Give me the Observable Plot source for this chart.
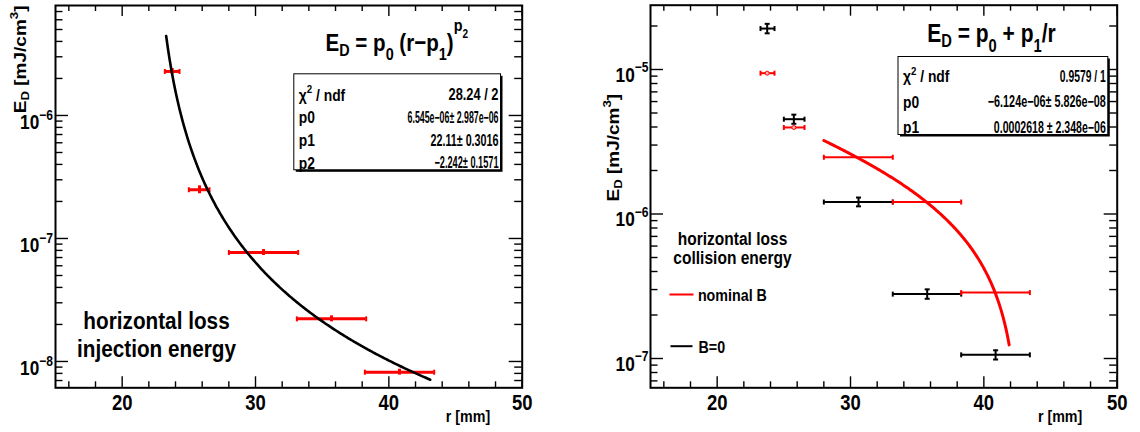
<!DOCTYPE html>
<html>
<head>
<meta charset="utf-8">
<script src="https://cdn.jsdelivr.net/npm/d3@7"></script>
<script src="https://cdn.jsdelivr.net/npm/@observablehq/plot@0.6"></script>
<style>
  html, body { margin: 0; padding: 0; background: #fff; }
  #figure { display: flex; width: 1140px; height: 432px; overflow: hidden; }
  #figure svg { display: block; flex: none; }
</style>
</head>
<body>
<div id="figure"></div>
<script>
// ---------- injection energy ----------
const injR       = [23.75, 25.8, 30.6, 35.7, 40.8];
const injRLow    = [23.2, 25.0, 28.0, 33.1, 38.2];
const injRHigh   = [24.3, 26.55, 33.2, 38.3, 43.4];
const injE       = [2.28e-6, 2.49e-7, 7.69e-8, 2.22e-8, 8.18e-9];
const injELow    = [2.16e-6, 2.31e-7, 7.27e-8, 2.10e-8, 7.74e-9];
const injEHigh   = [2.41e-6, 2.68e-7, 8.13e-8, 2.35e-8, 8.65e-9];
const injFitPar  = [6.545e-6, 22.11, -2.242];       // E = p0 (r - p1)^p2
const injFitRange = [23.3, 43.1];
const injStatLabels = ["χ^{2} / ndf", "p0", "p1", "p2"];
const injStatValues = ["28.24 / 2", "6.545e−06± 2.987e−06", "22.11± 0.3016", "−2.242± 0.1571"];

// ---------- collision energy ----------
const colR       = [23.75, 25.75, 30.6, 35.75, 40.88];
const colRLow    = [23.25, 25.0, 28.0, 33.17, 38.3];
const colRHigh   = [24.3, 26.55, 33.17, 38.3, 43.45];
const nominalE   = [9.43e-6, 3.97e-6, 2.47e-6, 1.21e-6, 2.86e-7];
const zeroBE     = [1.92e-5, 4.53e-6, 1.21e-6, 2.79e-7, 1.06e-7];
const zeroBELow  = [1.78e-5, 4.21e-6, 1.13e-6, 2.59e-7, 9.84e-8];
const zeroBEHigh = [2.07e-5, 4.87e-6, 1.30e-6, 3.01e-7, 1.14e-7];
const colFitPar  = [-6.124e-6, 2.618e-4];           // E = p0 + p1 / r
const colFitRange = [28.0, 41.9];
const colStatLabels = ["χ^{2} / ndf", "p0", "p1"];
const colStatValues = ["0.9579 / 1", "−6.124e−06± 5.826e−08", "0.0002618 ± 2.348e−06"];

// ---------- axes ----------
const xRange = [15, 50];
const xTickValues = [20, 30, 40, 50];
const xTitle = "r [mm]";
const yTitle = "E_{D} [mJ/cm^{3}]";

// ---------- drawing ----------
const FONT = "'Liberation Sans', Arial, Helvetica, sans-serif";
const SQUEEZE = 0.84;           // narrow Helvetica-like lettering
const W = 570, H = 432;
const SVGNS = "http://www.w3.org/2000/svg";

// end caps for error bars
const capV = {draw(ctx, size) { const h = Math.sqrt(size / Math.PI); ctx.moveTo(0, -h); ctx.lineTo(0, h); }};
const capH = {draw(ctx, size) { const h = Math.sqrt(size / Math.PI); ctx.moveTo(-h, 0); ctx.lineTo(h, 0); }};

const txt = (s, o) => Plot.text([s], {text: d => d, fontFamily: FONT, fontWeight: "bold", fill: "black", ...o});

function sampleFit(f, [a, b], n = 240) {
  return d3.range(n + 1).map(i => { const r = a + (b - a) * i / n; return {r, e: f(r)}; });
}

function pad(p) {
  const fw = W - p.ml - p.mr, fh = H - p.mt - p.mb;
  const [lo, hi] = p.yDomain;
  const eMin = Math.floor(Math.log10(lo)), eMax = Math.ceil(Math.log10(hi));
  const decades = d3.range(eMin, eMax + 1).filter(e => 10 ** e >= lo && 10 ** e <= hi);
  const minorY = d3.range(eMin, eMax + 1).flatMap(e => d3.range(2, 10).map(k => k * 10 ** e)).filter(v => v > lo && v < hi);
  const minorX = d3.range(xRange[0] + 1, xRange[1], 2).filter(v => v % 10 !== 0);
  const tk = {stroke: "black", strokeWidth: 1.4};

  // rectangle placed in pad pixels, expressed as insets of the frame
  const box = (b, o) => Plot.frame({
    insetLeft: b.x0 - p.ml, insetRight: W - p.mr - b.x1,
    insetTop: b.y0 - p.mt, insetBottom: H - p.mb - b.y1, ...o
  });
  const at = (x, y) => ({frameAnchor: "top-left", dx: x - p.ml, dy: y - p.mt});
  const st = p.stat;

  const marks = [
    // ticks on all four sides, pointing inwards
    Plot.ruleX(xTickValues, {...tk, insetTop: fh - 11}),
    Plot.ruleX(xTickValues, {...tk, insetBottom: fh - 11}),
    Plot.ruleX(minorX, {...tk, insetTop: fh - 6}),
    Plot.ruleX(minorX, {...tk, insetBottom: fh - 6}),
    Plot.ruleY(decades.map(e => 10 ** e), {...tk, insetRight: fw - 13}),
    Plot.ruleY(decades.map(e => 10 ** e), {...tk, insetLeft: fw - 13}),
    Plot.ruleY(minorY, {...tk, insetRight: fw - 7.5}),
    Plot.ruleY(minorY, {...tk, insetLeft: fw - 7.5}),
    Plot.frame({stroke: "black", strokeWidth: 2}),

    // tick labels
    Plot.text(xTickValues, {x: d => d, text: d => String(d), frameAnchor: "bottom", dy: 22.5, lineAnchor: "bottom",
      fontFamily: FONT, fontWeight: "bold", fontSize: 22}),
    Plot.text(decades, {y: e => 10 ** e, text: e => `10^{${e < 0 ? "−" + (-e) : e}}`, frameAnchor: "left",
      dx: p.yLabelDx, dy: p.yLabelDy, textAnchor: "end", lineAnchor: "bottom",
      fontFamily: FONT, fontWeight: "bold", fontSize: 20.5}),

    // axis titles
    txt(xTitle, {frameAnchor: "bottom-right", dx: p.xTitleDx, dy: 34.4, textAnchor: "end", lineAnchor: "bottom", fontSize: 17}),
    txt(yTitle, {...at(p.yTitleX, p.yTitleY), rotate: -90, textAnchor: "end", lineAnchor: "bottom", fontSize: 19}),

    ...p.marks,

    // fit formula and statistics box
    txt(p.formula, {...at(p.formulaX, p.formulaY), textAnchor: "start", lineAnchor: "bottom", fontSize: p.formulaSize}),
    box(st, {fill: "black", stroke: null, dx: 2, dy: 2}),
    box(st, {fill: "white", stroke: "black", strokeWidth: 1}),
    ...p.statLabels.map((s, i) =>
      txt(s, {...at(st.x0 + 5, st.row0 + st.step * i), textAnchor: "start", fontSize: 16.5})),
    ...p.statValues.map((s, i) =>
      txt(s, {...at(st.x1 - 2, st.row0 + st.step * i), textAnchor: "end", fontSize: 16})),

    // descriptive text
    ...p.notes.map(n => txt(n.text, {...at(n.x, n.y), textAnchor: n.anchor || "middle", lineAnchor: "bottom", fontSize: n.size})),
    ...(p.swatches || []).map(s => box(s, {fill: s.color, stroke: null}))
  ];

  const svg = Plot.plot({
    width: W, height: H,
    marginLeft: p.ml, marginRight: p.mr, marginTop: p.mt, marginBottom: p.mb,
    x: {domain: xRange, axis: null},
    y: {type: "log", domain: p.yDomain, axis: null},
    style: {fontFamily: FONT, background: "white", color: "black"},
    marks
  });
  document.getElementById("figure").appendChild(svg);
  // the fit-result column is set narrower, to fit inside its box
  const fitWidth = new Map(p.statValues.map((s, i) => [s, p.statWidths[i]]));
  finishText(svg, fitWidth);
  return svg;
}

// --- minimal TLatex-style sub/superscripts: a_{b}, a^{b}, a^[k]{b} ---
function texNodes(s) {
  const out = []; let buf = ""; let i = 0;
  while (i < s.length) {
    const c = s[i];
    if ((c === "_" || c === "^") && (s[i + 1] === "{" || s[i + 1] === "[")) {
      if (buf) { out.push({text: buf}); buf = ""; }
      let j = i + 1, k = null;
      if (s[j] === "[") { const e = s.indexOf("]", j); k = +s.slice(j + 1, e); j = e + 1; }
      let depth = 0, end = j;
      for (; end < s.length; end++) {
        if (s[end] === "{") depth++;
        else if (s[end] === "}" && --depth === 0) break;
      }
      out.push({kind: c === "_" ? "sub" : "sup", k, children: texNodes(s.slice(j + 1, end))});
      i = end + 1;
    } else { buf += c; i++; }
  }
  if (buf) out.push({text: buf});
  return out;
}

function typeset(el) {
  const src = el.textContent;
  if (!/[_^][{\[]/.test(src)) return;
  const base = parseFloat(getComputedStyle(el).fontSize);
  el.textContent = "";
  let cur = 0;
  const emit = (nodes, size, shift) => {
    let prev = "";
    for (const n of nodes) {
      if (n.text !== undefined) {
        const t = document.createElementNS(SVGNS, "tspan");
        t.setAttribute("font-size", size.toFixed(2));
        if (shift !== cur) { t.setAttribute("dy", (shift - cur).toFixed(2)); cur = shift; }
        t.textContent = n.text;
        el.appendChild(t);
        prev = n.text.slice(-1);
      } else {
        const off = n.kind === "sub"
          ? size * (n.k ?? (/[pgjqy]/.test(prev) ? 0.4 : 0.22))
          : -size * (n.k ?? 0.45);
        emit(n.children, size * 0.7, shift + off);
      }
    }
  };
  emit(texNodes(src), base, 0);
}

function finishText(svg, fitWidth) {
  for (const el of svg.querySelectorAll("text")) {
    const w = fitWidth.get(el.textContent);
    if (w) {
      el.setAttribute("textLength", (w / SQUEEZE).toFixed(1));
      el.setAttribute("lengthAdjust", "spacingAndGlyphs");
    }
    typeset(el);
    const t = el.getAttribute("transform") || "translate(0,0)";
    el.setAttribute("transform", t.replace(/^translate\([^)]*\)/, m => `${m} scale(${SQUEEZE},1)`));
  }
}

// ---------- left pad: injection energy ----------
const inj = injR.map((r, i) => ({r, lo: injRLow[i], hi: injRHigh[i], e: injE[i], elo: injELow[i], ehi: injEHigh[i]}));
const injFit = sampleFit(r => injFitPar[0] * Math.pow(r - injFitPar[1], injFitPar[2]), injFitRange);

pad({
  ml: 55, mr: 48.3, mt: 5, mb: 44.7,
  yDomain: [6.109e-9, 7.836e-6],
  yLabelDx: -2.5, yLabelDy: 13.3,
  xTitleDx: -32, yTitleX: 25, yTitleY: 5,
  formula: "E_{D} = p_{0} (r−p_{1})^[0.8]{p_{2}}", formulaX: 325, formulaY: 50, formulaSize: 24.5,
  stat: {x0: 293.3, x1: 500, y0: 73.3, y1: 169.3, row0: 88.5, step: 22.6},
  statLabels: injStatLabels, statValues: injStatValues, statWidths: [50, 91, 68, 64],
  notes: [
    {text: "horizontal loss", x: 156, y: 328.3, size: 24.7},
    {text: "injection energy", x: 156, y: 356.7, size: 24.7}
  ],
  marks: [
    Plot.ruleY(inj, {y: "e", x1: "lo", x2: "hi", stroke: "red", strokeWidth: 3}),
    Plot.ruleX(inj, {x: "r", y1: "elo", y2: "ehi", stroke: "red", strokeWidth: 3}),
    Plot.dot(inj, {x: "lo", y: "e", symbol: capV, r: 2.5, stroke: "red", strokeWidth: 2, fill: "none"}),
    Plot.dot(inj, {x: "hi", y: "e", symbol: capV, r: 2.5, stroke: "red", strokeWidth: 2, fill: "none"}),
    Plot.line(injFit, {x: "r", y: "e", stroke: "black", strokeWidth: 2.6})
  ]
});

// ---------- right pad: collision energy ----------
const nominal = colR.map((r, i) => ({r, lo: colRLow[i], hi: colRHigh[i], e: nominalE[i]}));
const zeroB = colR.map((r, i) => ({r, lo: colRLow[i], hi: colRHigh[i], e: zeroBE[i], elo: zeroBELow[i], ehi: zeroBEHigh[i]}));
const colFit = sampleFit(r => colFitPar[0] + colFitPar[1] / r, colFitRange);

pad({
  ml: 80, mr: 23.3, mt: 4.7, mb: 44.7,
  yDomain: [6.27e-8, 2.786e-5],
  yLabelDx: -2, yLabelDy: 12,
  xTitleDx: -34.9, yTitleX: 48, yTitleY: 93.3,
  formula: "E_{D} = p_{0} + p_{1}/r", formulaX: 356.7, formulaY: 41, formulaSize: 25,
  stat: {x0: 327.5, x1: 537.3, y0: 56, y1: 134, row0: 70, step: 25.5},
  statLabels: colStatLabels, statValues: colStatValues, statWidths: [46, 118, 112],
  notes: [
    {text: "horizontal loss", x: 162, y: 244.3, size: 18.5},
    {text: "collision energy", x: 162, y: 263.3, size: 18.5},
    {text: "nominal B", x: 127.4, y: 300.5, size: 17, anchor: "start"},
    {text: "B=0", x: 128, y: 352.5, size: 17, anchor: "start"}
  ],
  swatches: [
    {x0: 99, x1: 123, y0: 293, y1: 295, color: "red"},
    {x0: 100, x1: 122, y0: 344.7, y1: 346.7, color: "black"}
  ],
  marks: [
    // B = 0
    Plot.ruleY(zeroB, {y: "e", x1: "lo", x2: "hi", stroke: "black", strokeWidth: 2}),
    Plot.ruleX(zeroB, {x: "r", y1: "elo", y2: "ehi", stroke: "black", strokeWidth: 2}),
    Plot.dot(zeroB, {x: "lo", y: "e", symbol: capV, r: 2.5, stroke: "black", strokeWidth: 2, fill: "none"}),
    Plot.dot(zeroB, {x: "hi", y: "e", symbol: capV, r: 2.5, stroke: "black", strokeWidth: 2, fill: "none"}),
    Plot.dot(zeroB, {x: "r", y: "elo", symbol: capH, r: 2.5, stroke: "black", strokeWidth: 2, fill: "none"}),
    Plot.dot(zeroB, {x: "r", y: "ehi", symbol: capH, r: 2.5, stroke: "black", strokeWidth: 2, fill: "none"}),
    // nominal B
    Plot.ruleY(nominal, {y: "e", x1: "lo", x2: "hi", stroke: "red", strokeWidth: 2}),
    Plot.dot(nominal, {x: "lo", y: "e", symbol: capV, r: 2.5, stroke: "red", strokeWidth: 2, fill: "none"}),
    Plot.dot(nominal, {x: "hi", y: "e", symbol: capV, r: 2.5, stroke: "red", strokeWidth: 2, fill: "none"}),
    Plot.dot(nominal.filter(d => d.r < colFitRange[0]), {x: "r", y: "e", r: 2, stroke: "red", strokeWidth: 1, fill: "#ffb0b0"}),
    Plot.line(colFit, {x: "r", y: "e", stroke: "red", strokeWidth: 3})
  ]
});
</script>
</body>
</html>
